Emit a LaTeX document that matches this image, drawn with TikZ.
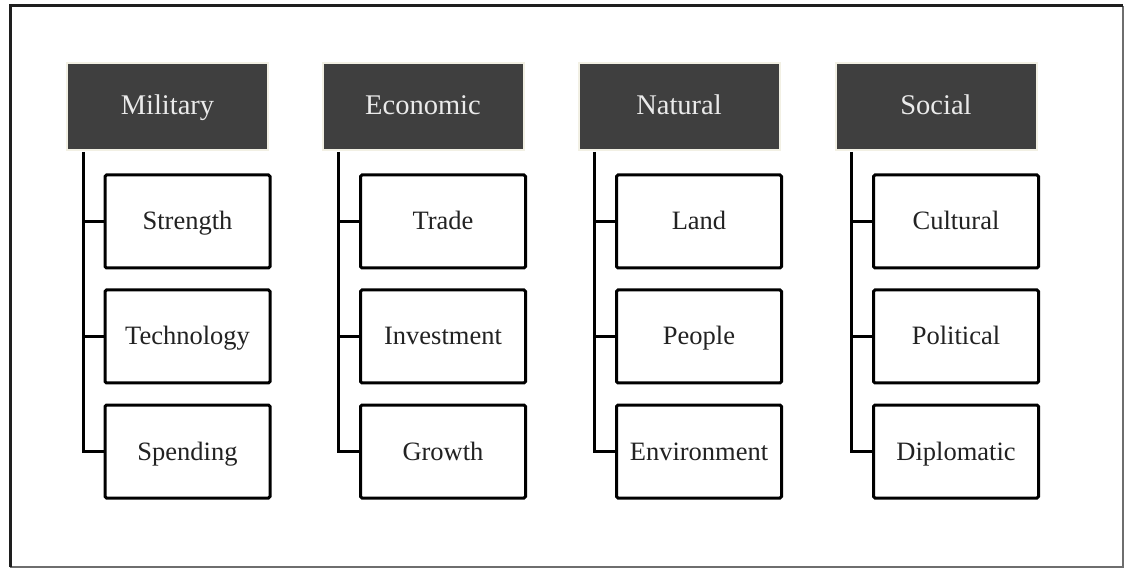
\documentclass[tikz,border=0pt]{standalone}
\usepackage{fontspec}
\setmainfont{Liberation Serif}
\begin{document}
\begin{tikzpicture}[x=1pt,y=-1pt,
  head/.style={draw=headedge,line width=2pt,fill=headfill,text=headtext,
    minimum width=201pt,minimum height=87pt,inner sep=0pt,
    text height=21pt,text depth=5pt,font=\fontsize{28.5}{32}\selectfont},
  leaf/.style={draw=black,line width=3pt,rounded corners=1.5pt,fill=white,text=leaftext,
    minimum width=165pt,minimum height=93pt,inner sep=0pt,
    text height=22pt,text depth=5pt,font=\fontsize{26.5}{30}\selectfont},
  link/.style={draw=black,line width=3pt},
  frame/.style={draw=framecol,line width=3pt},
  lightframe/.style={draw=lightcol,line width=2pt}]
\definecolor{headfill}{HTML}{3F3F3F}
\definecolor{headedge}{HTML}{F2F0E4}
\definecolor{headtext}{HTML}{EAEAEA}
\definecolor{leaftext}{HTML}{222222}
\definecolor{framecol}{HTML}{1E1E1E}
\definecolor{lightcol}{HTML}{6E6E6E}
\useasboundingbox (0,0) rectangle (1125,569);
% outer frame: dark top and left edges, lighter right and bottom edges
\draw[lightframe] (1123,6) -- (1123,567) -- (10,567);
\draw[frame] (10,567) -- (10,6) -- (1123,6);
% four categories, each with three items hanging off a trunk line
\foreach \i/\x/\h/\a/\b/\c in {
  1/167.5/Military/Strength/Technology/Spending,
  2/423.0/Economic/Trade/Investment/Growth,
  3/679.0/Natural/Land/People/Environment,
  4/936.0/Social/Cultural/Political/Diplomatic}{
  \node[head] (h\i) at (\x,106.5) {\h};
  \node[leaf] (c\i a) at (\x+20,221.5) {\a};
  \node[leaf] (c\i b) at (\x+20,336.5) {\b};
  \node[leaf] (c\i c) at (\x+20,451.5) {\c};
  \coordinate (t\i) at ([xshift=17pt,yshift=-1pt]h\i.south west);
  \draw[link] (t\i) |- (c\i c.west);
  \draw[link] (t\i |- c\i a.west) -- (c\i a.west);
  \draw[link] (t\i |- c\i b.west) -- (c\i b.west);
}
\end{tikzpicture}
\end{document}
